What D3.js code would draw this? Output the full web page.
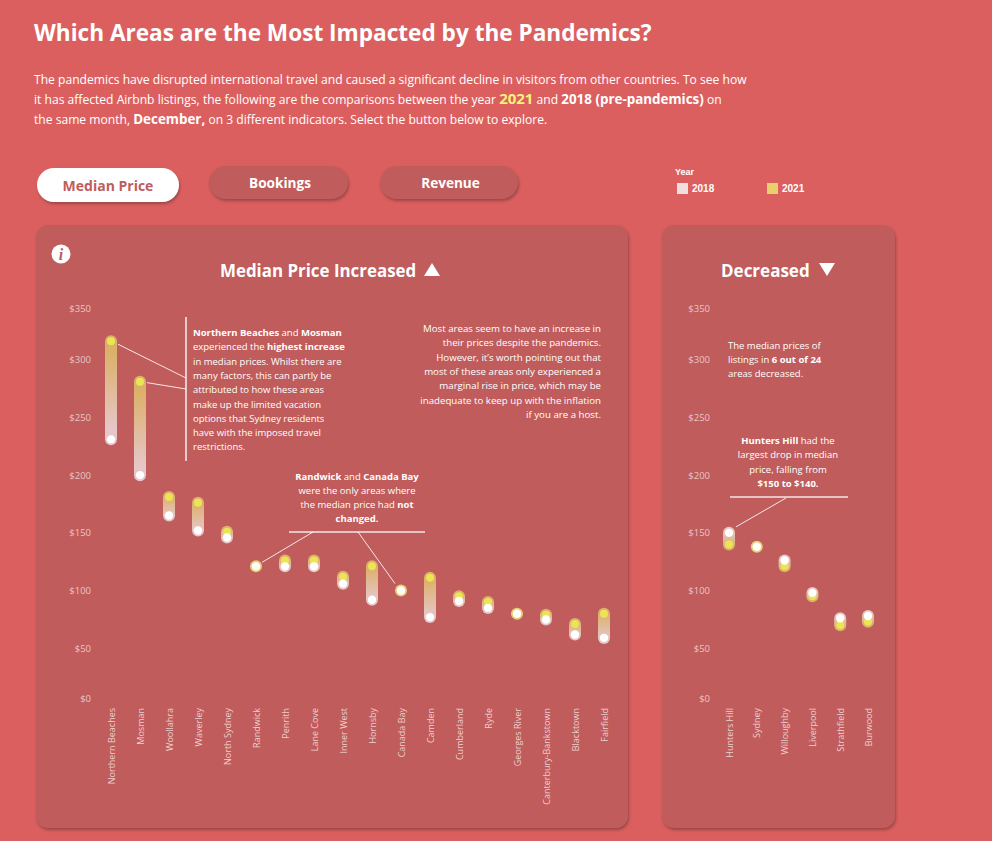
<!DOCTYPE html>
<html><head><meta charset="utf-8">
<script src="https://cdn.jsdelivr.net/npm/d3@7"></script>
<style>
html,body{margin:0;padding:0;background:#dc5f5f;overflow:hidden}
svg{display:block}
text{font-family:"Open Sans","Noto Sans",sans-serif;fill:#fff}
</style></head><body>
<svg id="c" width="992" height="841"></svg>
<script>
const upAreas = ["Northern Beaches","Mosman","Woollahra","Waverley","North Sydney","Randwick","Penrith","Lane Cove","Inner West","Hornsby","Canada Bay","Camden","Cumberland","Ryde","Georges River","Canterbury-Bankstown","Blacktown","Fairfield"];
const up2018 = [231,200,165,152,146,121,121,121,106,92,100,77,91,85,80,75,62,59];
const up2021 = [316,281,181,176,151,121,126,126,112,121,100,111,95,90,80,79,71,80];
const downAreas = ["Hunters Hill","Sydney","Willoughby","Liverpool","Strathfield","Burwood"];
const down2018 = [150,138,126,98,76,78];
const down2021 = [140,138,121,95,70,73];
const yTicks = [0,50,100,150,200,250,300,350];
const buttons = ["Median Price","Bookings","Revenue"];
const years = ["2018","2021"];

const PANEL="#c05c5c", C18="#e6c6c8", C21="#dcb06a", DOT21="#ebe552";
const svg=d3.select("#c");
const defs=svg.append("defs");
const sh=defs.append("filter").attr("id","sh").attr("x","-10%").attr("y","-10%").attr("width","120%").attr("height","125%");
sh.append("feDropShadow").attr("dx",1).attr("dy",2).attr("stdDeviation",1.5).attr("flood-color","#8a3c3c").attr("flood-opacity",.8);
defs.append("filter").attr("id","soft").attr("x","-50%").attr("y","-50%").attr("width","200%").attr("height","200%")
  .append("feGaussianBlur").attr("stdDeviation",0.6);
const mkGrad=(id,a,b)=>{const g=defs.append("linearGradient").attr("id",id).attr("x1",0).attr("y1",0).attr("x2",0).attr("y2",1);
 g.append("stop").attr("offset","15%").attr("stop-color",a);g.append("stop").attr("offset","85%").attr("stop-color",b);};
mkGrad("gUp",C21,C18);mkGrad("gDown",C18,C21);

function rich(parent,str,x,y,o){
  const t=parent.append("text").attr("x",x).attr("y",y).attr("font-size",o.size).attr("text-anchor",o.anchor||"start");
  str.split(/(\*\*.*?\*\*|##.*?##|@@.*?@@)/).filter(s=>s).forEach(s=>{
    const ts=t.append("tspan");
    if(s.startsWith("**")) ts.attr("font-weight",700).text(s.slice(2,-2));
    else if(s.startsWith("##")) ts.attr("font-weight",700).attr("font-size",o.big).text(s.slice(2,-2));
    else if(s.startsWith("@@")) ts.attr("font-weight",700).attr("font-size",o.yel).style("fill","#f7f27a").text(s.slice(2,-2));
    else ts.text(s);
  });
  return t;
}
const block=(lines,x,y0,lh,o)=>lines.forEach((l,i)=>rich(svg,l,x,y0+i*lh,o));

svg.append("text").attr("x",34).attr("y",41).attr("font-size",22.6).attr("font-weight",700).text("Which Areas are the Most Impacted by the Pandemics?");
block(["The pandemics have disrupted international travel and caused a significant decline in visitors from other countries. To see how",
"it has affected Airbnb listings, the following are the comparisons between the year @@2021@@ and ##2018 (pre-pandemics)## on",
"the same month, ##December,## on 3 different indicators. Select the button below to explore."],34,84,20,{size:12.1,big:13.4,yel:15});

const btn=[{x:37,y:168,w:142,h:34},{x:209,y:166,w:139,h:33},{x:380,y:166,w:138,h:33}];
buttons.forEach((b,i)=>{const r=btn[i];
 svg.append("rect").attr("x",r.x).attr("y",r.y).attr("width",r.w).attr("height",r.h).attr("rx",17)
  .attr("fill",i?PANEL:"#fff").attr("filter","url(#sh)");
 svg.append("text").attr("x",r.x+r.w/2+(i?1.5:0)).attr("y",r.y+r.h/2+5.5).attr("text-anchor","middle").attr("font-size",i?13.6:14).attr("font-weight",700)
  .style("fill",i?"#fff":PANEL).text(b);
});

svg.append("text").attr("x",675).attr("y",175).attr("font-size",9).attr("font-weight",700).style("font-family","Liberation Sans").text("Year");
years.forEach((y,i)=>{const x=677+i*90;
 svg.append("rect").attr("x",x).attr("y",183).attr("width",11).attr("height",11).attr("fill",i?"#e8d06c":"#f0dfe0");
 svg.append("text").attr("x",x+15).attr("y",192).attr("font-size",10).attr("font-weight",700).style("font-family","Liberation Sans").text(y);
});

const panels=[{x:36,w:592},{x:662,w:233}];
panels.forEach(p=>svg.append("rect").attr("x",p.x).attr("y",225).attr("width",p.w).attr("height",603).attr("rx",12).attr("fill",PANEL).attr("filter","url(#sh)"));

const y=d3.scaleLinear().domain([0,350]).range([706,302]);

function chart(areas,v18,v21,x0,x1,axisX){
  const x=d3.scalePoint().domain(areas).range([x0,x1]);
  const rows=areas.map((a,i)=>({a,v18:v18[i],v21:v21[i]}));
  const g=svg.append("g");
  const ax=g.append("g").attr("transform",`translate(${axisX},0)`)
    .call(d3.axisLeft(y).tickValues(yTicks).tickSize(0).tickPadding(0).tickFormat(d=>"$"+d));
  ax.select(".domain").remove();
  ax.selectAll("text").attr("font-size",9.5).style("font-family","'Open Sans'").style("fill","#e9c4c4")
    .attr("dy",d=>d===0?"-0.5em":d===350?"1.05em":"0.32em");
  const hw=6;
  g.selectAll(".bar").data(rows).join("rect").attr("class","bar")
    .attr("x",d=>x(d.a)-hw).attr("width",hw*2).attr("rx",hw)
    .attr("y",d=>y(Math.max(d.v18,d.v21))-hw)
    .attr("height",d=>Math.abs(y(d.v18)-y(d.v21))+hw*2)
    .attr("fill",d=>d.v18===d.v21?"#e7cf7c":(d.v21>d.v18?"url(#gUp)":"url(#gDown)"));
  g.selectAll(".d21").data(rows).join("circle").attr("class","d21").attr("cx",d=>x(d.a)).attr("cy",d=>y(d.v21)).attr("r",4).attr("fill",DOT21).attr("filter","url(#soft)");
  g.selectAll(".d18").data(rows).join("circle").attr("class","d18").attr("cx",d=>x(d.a)).attr("cy",d=>y(d.v18)).attr("r",4.2).attr("fill","#fff").attr("filter","url(#soft)");
  g.selectAll(".lab").data(rows).join("text").attr("class","lab")
    .attr("transform",d=>`translate(${x(d.a)+3.5},708) rotate(-90)`).attr("text-anchor","end").attr("font-size",9)
    .style("fill","#eccfcf").text(d=>d.a);
  return x;
}
const xU=chart(upAreas,up2018,up2021,111,604,91);
const xD=chart(downAreas,down2018,down2021,729,868,710);

svg.append("text").attr("x",220).attr("y",277).attr("font-size",16.9).attr("font-weight",700).text("Median Price Increased");
svg.append("text").attr("x",721).attr("y",277).attr("font-size",17).attr("font-weight",700).text("Decreased");
svg.append("path").attr("d",d3.line()([[424,276],[440,276],[432,263]])+"Z").attr("fill","#fff");
svg.append("path").attr("d",d3.line()([[819,263],[835,263],[827,276]])+"Z").attr("fill","#fff");

svg.append("circle").attr("cx",61).attr("cy",254).attr("r",9.5).attr("fill","#fff");
svg.append("text").attr("x",61).attr("y",260).attr("text-anchor","middle").attr("font-size",16).attr("font-weight",700).attr("font-style","italic")
  .style("font-family","Liberation Serif").style("fill",PANEL).text("i");

const rule=(a,b,w)=>svg.append("line").attr("x1",a[0]).attr("y1",a[1]).attr("x2",b[0]).attr("y2",b[1]).attr("stroke","#fff").attr("stroke-width",w||1).attr("stroke-opacity",.85);
rule([186,317],[186,461],1.6);
rule([289,532],[425,532],1.3);
rule([730,497],[848,497],1.3);
rule([xU("Northern Beaches")+7,y(up2021[0])+3],[186,378]);
rule([xU("Mosman")+7,y(up2021[1])+1],[186,389]);
rule([313,532],[xU("Randwick")+6,y(121)-4]);
rule([358,532],[xU("Canada Bay")-6,y(100)-7]);
rule([786,498],[xD("Hunters Hill")+7,y(150)-6]);

const note={size:9.5};
block(["**Northern Beaches** and **Mosman**","experienced the **highest increase**","in median prices. Whilst there are","many factors, this can partly be","attributed to how these areas","make up the limited vacation","options that Sydney residents","have with the imposed travel","restrictions."],193,336,14.3,note);
block(["Most areas seem to have an increase in","their prices despite the pandemics.","However, it\u2019s worth pointing out that","most of these areas only experienced a","marginal rise in price, which may be","inadequate to keep up with the inflation","if you are a host."],601,332,14.3,{size:9.7,anchor:"end"});
block(["**Randwick** and **Canada Bay**","were the only areas where","the median price had **not**","**changed.**"],357,480,13.9,{...note,anchor:"middle"});
block(["The median prices of","listings in **6 out of 24**","areas decreased."],728,349,13.9,note);
block(["**Hunters Hill** had the","largest drop in median","price, falling from","**$150 to $140.**"],788,444,14.3,{...note,anchor:"middle"});
</script>
</body></html>
